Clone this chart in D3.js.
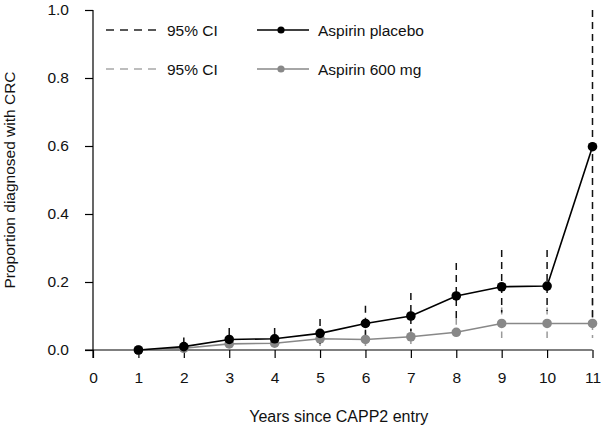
<!DOCTYPE html>
<html><head><meta charset="utf-8">
<script src="https://cdn.jsdelivr.net/npm/d3@7"></script>
<style>body{margin:0;background:#fff}svg{display:block}text{font-family:"Liberation Sans",Arial,sans-serif}</style>
</head><body><svg id="c" width="601" height="426"></svg>
<script>
const years = [1,2,3,4,5,6,7,8,9,10,11];
const placebo = [0.0,0.010,0.031,0.033,0.049,0.078,0.100,0.159,0.186,0.188,0.598];
const placeboLo = [0.0,0.0,0.008,0.010,0.018,0.040,0.055,0.090,0.110,0.115,0.090];
const placeboHi = [0.0,0.037,0.065,0.065,0.091,0.130,0.168,0.256,0.294,0.294,1.0];
const asp600 = [0.0,0.005,0.018,0.020,0.033,0.031,0.039,0.052,0.078,0.078,0.078];
const asp600Lo = [0.0,0.0,0.004,0.005,0.012,0.012,0.018,0.025,0.035,0.035,0.035];
const asp600Hi = [0.0,0.015,0.035,0.040,0.055,0.055,0.065,0.095,0.125,0.125,0.150];
const xTicks = [0,1,2,3,4,5,6,7,8,9,10,11];
const yTicks = [0,0.2,0.4,0.6,0.8,1.0];

const svg = d3.select("#c");
const x = d3.scaleLinear().domain([0,11]).range([93,592.5]);
const y = d3.scaleLinear().domain([0,1]).range([350,10]);
const FS = 15.5;

// axes
const xa = svg.append("g").attr("transform","translate(0,350)")
  .call(d3.axisBottom(x).tickValues(xTicks).tickSize(8).tickPadding(14).tickFormat(d3.format("d")));
xa.select(".domain").remove();
svg.append("line").attr("x1",85).attr("x2",592.5).attr("y1",350).attr("y2",350).attr("stroke","#000").attr("stroke-width",1.2);
const ya = svg.append("g").attr("transform","translate(93,0)")
  .call(d3.axisLeft(y).tickValues(yTicks).tickSize(8).tickPadding(16).tickFormat(d3.format(".1f")));
ya.select(".domain").remove();
svg.append("line").attr("x1",93).attr("x2",93).attr("y1",10).attr("y2",358).attr("stroke","#000").attr("stroke-width",1.2);
svg.selectAll(".tick line").attr("stroke","#000").attr("stroke-width",1.2);
svg.selectAll(".tick text").attr("font-size",FS).attr("fill","#111").attr("font-family","Liberation Sans, Arial, sans-serif");

svg.append("text").attr("x",x(5.5)-4).attr("y",422).attr("text-anchor","middle").attr("font-size",FS+0.5).attr("fill","#111").text("Years since CAPP2 entry");
svg.append("text").attr("transform","translate(15,180) rotate(-90)").attr("text-anchor","middle").attr("font-size",FS).attr("fill","#111").text("Proportion diagnosed with CRC");

// CIs
const dash = "7,5";
function ci(lo, hi, color, w){
  svg.append("g").selectAll("line").data(years.map((d,i)=>({x:d,lo:lo[i],hi:hi[i]})).filter(d=>d.hi>d.lo))
    .join("line").attr("x1",d=>x(d.x)).attr("x2",d=>x(d.x)).attr("y1",d=>y(d.hi)).attr("y2",d=>y(d.lo))
    .attr("stroke",color).attr("stroke-width",w).attr("stroke-dasharray",dash);
}
ci(asp600Lo, asp600Hi, "#9a9a9a", 1.5);
ci(placeboLo, placeboHi, "#111", 1.5);

const line = d3.line().x((d,i)=>x(years[i])).y(d=>y(d));
function series(vals, color){
  svg.append("path").datum(vals).attr("d",line).attr("fill","none").attr("stroke",color).attr("stroke-width",1.6);
  svg.append("g").selectAll("circle").data(vals).join("circle")
    .attr("cx",(d,i)=>x(years[i])).attr("cy",d=>y(d)).attr("r",4.8).attr("fill",color);
}
series(asp600, "#888");
series(placebo, "#000");

// legend
const legRows = [{y:30, ci:"#222", col:"#000", label:"Aspirin placebo"},{y:69, ci:"#a8a8a8", col:"#888", label:"Aspirin 600 mg"}];
legRows.forEach(r=>{
  svg.append("line").attr("x1",106).attr("x2",160).attr("y1",r.y).attr("y2",r.y).attr("stroke",r.ci).attr("stroke-width",1.5).attr("stroke-dasharray","8,6");
  svg.append("text").attr("x",167).attr("y",r.y+5.5).attr("font-size",FS).attr("fill","#111").text("95% CI");
  svg.append("line").attr("x1",257).attr("x2",309).attr("y1",r.y).attr("y2",r.y).attr("stroke",r.col).attr("stroke-width",1.6);
  svg.append("circle").attr("cx",281).attr("cy",r.y).attr("r",3.6).attr("fill",r.col);
  svg.append("text").attr("x",318).attr("y",r.y+5.5).attr("font-size",FS).attr("fill","#111").text(r.label);
});
</script></body></html>
